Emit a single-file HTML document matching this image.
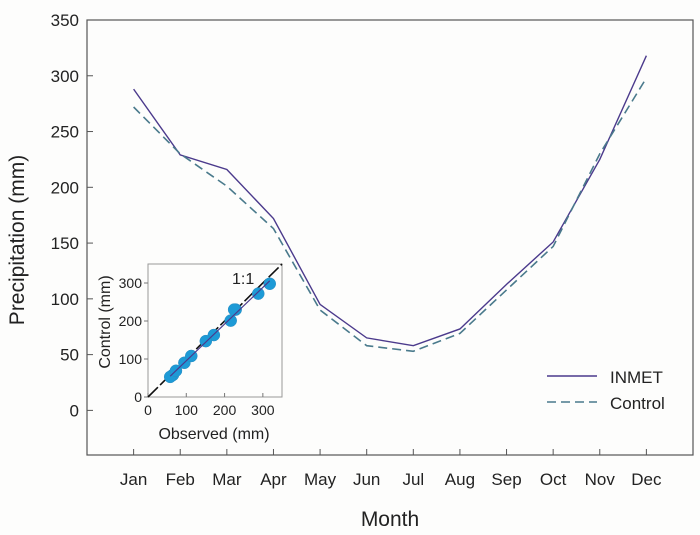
<!DOCTYPE html>
<html><head><meta charset="utf-8"><style>
body{margin:0;background:#fdfdfc;}
svg{display:block;font-family:"Liberation Sans",Arial,sans-serif;}
</style></head><body>
<svg id="chart" width="700" height="535" viewBox="0 0 700 535"></svg>
<script>
const months=["Jan","Feb","Mar","Apr","May","Jun","Jul","Aug","Sep","Oct","Nov","Dec"];
const inmet=[288,229,216,172,95,65,58,73,113,151,225,318];
const control=[272,230,201,163,90,58,53,69,108,147,230,298];
const yTicks=[0,50,100,150,200,250,300,350];
const insetTicks=[0,100,200,300];

const NS="http://www.w3.org/2000/svg";
const svg=document.getElementById('chart');
function mk(tag,attrs,parent){const e=document.createElementNS(NS,tag);for(const k in attrs)e.setAttribute(k,attrs[k]);(parent||svg).appendChild(e);return e;}
const L=87,R=693,T=20,B=455;
const x=i=>L+(i+1)*(R-L)/13;
const y=v=>B-(v+40)*(B-T)/390;

let e=mk('rect',{x:L,y:T,width:R-L,height:B-T,fill:'#fdfdfc',stroke:'#555','stroke-width':1.2});

yTicks.forEach(v=>{
  let t=mk('line',{x1:L,x2:L+6,y1:y(v),y2:y(v),stroke:'#555'});
  
  let l=mk('text',{x:L-8,y:y(v)+6,'text-anchor':'end','font-size':17,fill:'#222'});l.textContent=v;
  
});
months.forEach((m,i)=>{
  let t=mk('line',{x1:x(i),x2:x(i),y1:B,y2:B-6,stroke:'#555'});
  
  let l=mk('text',{x:x(i),y:B+30,'text-anchor':'middle','font-size':17,fill:'#222'});l.textContent=m;
  
});
let yl=mk('text',{x:0,y:0,transform:'translate(24,240) rotate(-90)','text-anchor':'middle','font-size':21,fill:'#222'});yl.textContent='Precipitation (mm)';

let xl=mk('text',{x:390,y:526,'text-anchor':'middle','font-size':21,fill:'#222'});xl.textContent='Month';


let p1=mk('polyline',{points:inmet.map((v,i)=>x(i)+','+y(v)).join(' '),fill:'none',stroke:'#4b3a8c','stroke-width':1.4});

let p2=mk('polyline',{points:control.map((v,i)=>x(i)+','+y(v)).join(' '),fill:'none',stroke:'#4a7a8c','stroke-width':1.6,'stroke-dasharray':'9,5'});


// legend
let lg=mk('g',{});
let a=mk('line',{x1:547,x2:597,y1:376,y2:376,stroke:'#4b3a8c','stroke-width':1.4},lg);

let at=mk('text',{x:610,y:383,'font-size':17,fill:'#222'},lg);at.textContent='INMET';

let b=mk('line',{x1:547,x2:597,y1:402,y2:402,stroke:'#4a7a8c','stroke-width':1.6,'stroke-dasharray':'9,5'},lg);

let bt=mk('text',{x:610,y:409,'font-size':17,fill:'#222'},lg);bt.textContent='Control';


// inset
const IL=148,IR=282,IT=264,IB=397;
const ix=v=>IL+v*(IR-IL)/350, iy=v=>IB-v*(IB-IT)/350;
let ib=mk('rect',{x:IL,y:IT,width:IR-IL,height:IB-IT,fill:'#fdfdfc',stroke:'#999','stroke-width':1});

insetTicks.forEach(v=>{
  let t=mk('line',{x1:ix(v),x2:ix(v),y1:IB,y2:IB-4,stroke:'#777'});
  let t2=mk('line',{x1:IL,x2:IL-4,y1:iy(v),y2:iy(v),stroke:'#777'});
  let l=mk('text',{x:ix(v),y:IB+18,'text-anchor':'middle','font-size':14,fill:'#222'});l.textContent=v;
  
  let l2=mk('text',{x:IL-6,y:iy(v)+5,'text-anchor':'end','font-size':14,fill:'#222'});l2.textContent=v;
  
});
let ixl=mk('text',{x:214,y:439,'text-anchor':'middle','font-size':16,fill:'#222'});ixl.textContent='Observed  (mm)';

let iyl=mk('text',{x:0,y:0,transform:'translate(110,322) rotate(-90)','text-anchor':'middle','font-size':16,fill:'#222'});iyl.textContent='Control (mm)';

let one=mk('line',{x1:ix(0),y1:iy(0),x2:ix(350),y2:iy(350),stroke:'#111','stroke-width':1.6,'stroke-dasharray':'14,3'});

let ot=mk('text',{x:232,y:284,'font-size':16,fill:'#222'});ot.textContent='1:1';

inmet.forEach((v,i)=>{
  let c=mk('circle',{cx:ix(v),cy:iy(control[i]),r:6,fill:'#1d9ad6',stroke:'#2a8cc0','stroke-width':0.5});
  
});
// regression line
const n=inmet.length,mx=inmet.reduce((s,v)=>s+v,0)/n,my=control.reduce((s,v)=>s+v,0)/n;
let sxy=0,sxx=0;inmet.forEach((v,i)=>{sxy+=(v-mx)*(control[i]-my);sxx+=(v-mx)*(v-mx);});
const sl=sxy/sxx,ic=my-sl*mx,x0=Math.min(...inmet),x1=Math.max(...inmet);
let rg=mk('line',{x1:ix(x0),y1:iy(ic+sl*x0),x2:ix(x1),y2:iy(ic+sl*x1),stroke:'#4b3a8c','stroke-width':1.2});

</script>
</body></html>
